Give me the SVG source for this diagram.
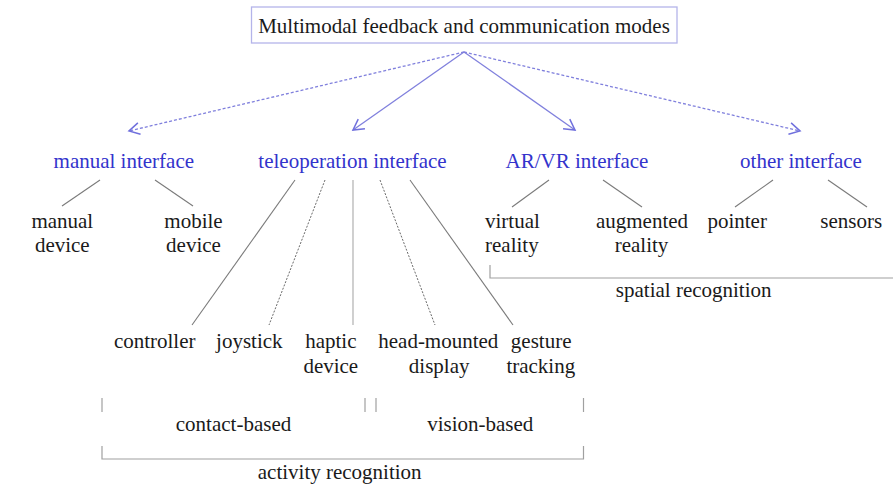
<svg xmlns="http://www.w3.org/2000/svg" width="893" height="487" viewBox="0 0 893 487">
<style>
.t{fill:#1a1a1a}
.m{text-anchor:middle}
.blue{fill:#3333cc}
.arrow{stroke:#8080dd;stroke-width:1.3;fill:none}
.dash{stroke-dasharray:3,2}
.ln{stroke:#7a7a7a;stroke-width:1.1;fill:none}
.lt{stroke:#b0b0b0;stroke-width:1.2;fill:none}
.dl{stroke:#6a6a6a;stroke-width:1;stroke-dasharray:2,1.5;fill:none}
.br{stroke:#a0a0a0;stroke-width:1.2;fill:none}
</style>
<defs>
<marker id="ah" markerUnits="userSpaceOnUse" markerWidth="14" markerHeight="14" refX="10" refY="5" orient="auto" viewBox="0 0 12 10">
<path d="M1,0 L10,5 L1,10" fill="none" stroke="#7070dd" stroke-width="1.3"/>
</marker>
</defs>
<rect width="893" height="487" fill="#ffffff"/>

<g id="root">
<rect x="251.5" y="7" width="425.5" height="36" fill="#ffffff" stroke="#b4b4ea" stroke-width="1.3"/>
<text class="t m" style="font-family:'Liberation Serif',serif;font-size:21px" x="464" y="33">Multimodal feedback and communication modes</text>
</g>

<g id="connectors">
<line class="arrow dash" x1="464" y1="52" x2="129" y2="131" marker-end="url(#ah)"/>
<line class="arrow" x1="464" y1="52" x2="353" y2="130" marker-end="url(#ah)"/>
<line class="arrow" x1="464" y1="52" x2="575" y2="130" marker-end="url(#ah)"/>
<line class="arrow dash" x1="464" y1="52" x2="800" y2="131" marker-end="url(#ah)"/>

<line class="ln" x1="100" y1="180" x2="62" y2="206"/>
<line class="ln" x1="155" y1="180" x2="193" y2="206"/>
<line class="ln" x1="295" y1="180" x2="192" y2="325"/>
<line class="dl" x1="325" y1="180" x2="269" y2="325"/>
<line class="lt" x1="353" y1="180" x2="353" y2="325"/>
<line class="dl" x1="380" y1="180" x2="435" y2="325"/>
<line class="ln" x1="410" y1="180" x2="513" y2="325"/>
<line class="ln" x1="549" y1="180" x2="512" y2="207"/>
<line class="ln" x1="603" y1="180" x2="642" y2="207"/>
<line class="ln" x1="773" y1="180" x2="735" y2="207"/>
<line class="ln" x1="828" y1="180" x2="867" y2="207"/>
</g>

<g id="manual-interface"><text class="t m blue" style="font-family:'Liberation Serif',serif;font-size:21px" x="123.8" y="168">manual interface</text></g>
<g id="teleoperation-interface"><text class="t m blue" style="font-family:'Liberation Serif',serif;font-size:21px" x="352.5" y="168">teleoperation interface</text></g>
<g id="arvr-interface"><text class="t m blue" style="font-family:'Liberation Serif',serif;font-size:21px" x="577" y="168">AR/VR interface</text></g>
<g id="other-interface"><text class="t m blue" style="font-family:'Liberation Serif',serif;font-size:21px" x="801" y="168">other interface</text></g>

<g id="manual-device"><text class="t m" style="font-family:'Liberation Serif',serif;font-size:21px" x="62.3" y="228">manual</text><text class="t m" style="font-family:'Liberation Serif',serif;font-size:21px" x="62.3" y="251.5">device</text></g>
<g id="mobile-device"><text class="t m" style="font-family:'Liberation Serif',serif;font-size:21px" x="193.5" y="228">mobile</text><text class="t m" style="font-family:'Liberation Serif',serif;font-size:21px" x="193.5" y="251.5">device</text></g>
<g id="virtual-reality"><text class="t" style="font-family:'Liberation Serif',serif;font-size:21px" x="485" y="228">virtual</text><text class="t" style="font-family:'Liberation Serif',serif;font-size:21px" x="485" y="251.5">reality</text></g>
<g id="augmented-reality"><text class="t m" style="font-family:'Liberation Serif',serif;font-size:21px" x="642" y="228">augmented</text><text class="t m" style="font-family:'Liberation Serif',serif;font-size:21px" x="641.5" y="251.5">reality</text></g>
<g id="pointer"><text class="t m" style="font-family:'Liberation Serif',serif;font-size:21px" x="737.2" y="228">pointer</text></g>
<g id="sensors"><text class="t m" style="font-family:'Liberation Serif',serif;font-size:21px" x="851.2" y="228">sensors</text></g>

<g id="controller"><text class="t m" style="font-family:'Liberation Serif',serif;font-size:21px" x="154.7" y="348">controller</text></g>
<g id="joystick"><text class="t m" style="font-family:'Liberation Serif',serif;font-size:21px" x="249.3" y="348">joystick</text></g>
<g id="haptic-device"><text class="t m" style="font-family:'Liberation Serif',serif;font-size:21px" x="330.8" y="348">haptic</text><text class="t m" style="font-family:'Liberation Serif',serif;font-size:21px" x="330.8" y="372.5">device</text></g>
<g id="head-mounted-display"><text class="t m" style="font-family:'Liberation Serif',serif;font-size:21px" x="438.3" y="348">head-mounted</text><text class="t m" style="font-family:'Liberation Serif',serif;font-size:21px" x="439.2" y="372.5">display</text></g>
<g id="gesture-tracking"><text class="t m" style="font-family:'Liberation Serif',serif;font-size:21px" x="541.2" y="348">gesture</text><text class="t m" style="font-family:'Liberation Serif',serif;font-size:21px" x="540.8" y="372.5">tracking</text></g>

<g id="spatial-recognition">
<path class="br" d="M490,265 V278 H893"/>
<text class="t m" style="font-family:'Liberation Serif',serif;font-size:21px" x="693.7" y="297">spatial recognition</text>
</g>
<g id="contact-based">
<line class="br" x1="102" y1="398" x2="102" y2="412"/>
<line class="br" x1="365" y1="398" x2="365" y2="412"/>
<text class="t m" style="font-family:'Liberation Serif',serif;font-size:21px" x="233.5" y="430.5">contact-based</text>
</g>
<g id="vision-based">
<line class="br" x1="376" y1="398" x2="376" y2="412"/>
<line class="br" x1="583.5" y1="398" x2="583.5" y2="412"/>
<text class="t m" style="font-family:'Liberation Serif',serif;font-size:21px" x="480.3" y="430.5">vision-based</text>
</g>
<g id="activity-recognition">
<path class="br" d="M102,446 V459 H583.5 V446"/>
<text class="t m" style="font-family:'Liberation Serif',serif;font-size:21px" x="339.7" y="478.5">activity recognition</text>
</g>
</svg>
